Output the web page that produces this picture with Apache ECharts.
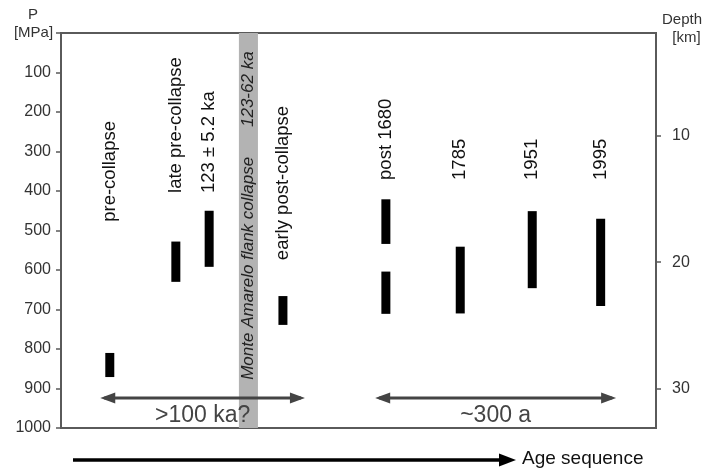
<!DOCTYPE html>
<html><head><meta charset="utf-8">
<script src="https://cdn.jsdelivr.net/npm/echarts@6/dist/echarts.min.js"></script>
<style>html,body{margin:0;padding:0;background:#fff}#c{width:712px;height:470px}</style>
</head><body><div id="c"></div>
<script>
// ---- data ----
const categories = ['pre-collapse', 'late pre-collapse', '123 ± 5.2 ka', 'early post-collapse', 'post 1680', '1785', '1951', '1995'];
const agePosition = [8.2, 19.3, 24.9, 37.3, 54.6, 67.1, 79.2, 90.7];   // position along the age sequence (0-100)
const rangeCategory = [0, 1, 2, 3, 4, 4, 5, 6, 7];
const rangeLow  = [810, 528, 450, 666, 421, 604, 541, 451, 470];        // P [MPa]
const rangeHigh = [871, 630, 592, 739, 534, 711, 710, 646, 691];        // P [MPa]
const collapseBand = [29.9, 33.1];
const collapseLabels = ['Monte Amarelo flank collapse', '123-62 ka'];
const depthTicks = [10, 20, 30];
const arrowStart = [6.6, 52.8];
const arrowEnd = [41.0, 93.3];
const arrowPressure = [924, 924];
const arrowText = ['>100 ka?', '~300 a'];

// ---- layout ----
const labelBottom = [478, 405, 405, 575, 372, 372, 372, 372];
const collapseLabelBottom = [878, 238];
const FONT = '"Liberation Sans", Arial, sans-serif';

const chart = echarts.init(document.getElementById('c'), null, {renderer: 'canvas'});

const rangeData = rangeCategory.map((c, i) => [agePosition[c], rangeLow[i], rangeHigh[i]]);
const labelData = categories.map((c, i) => [agePosition[i], labelBottom[i]]);
const bandCenter = (collapseBand[0] + collapseBand[1]) / 2;
const bandLabelData = collapseLabels.map((t, i) => [bandCenter, collapseLabelBottom[i]]);
const arrowData = arrowText.map((t, i) => [arrowStart[i], arrowEnd[i], arrowPressure[i]]);

chart.setOption({
  animation: false,
  backgroundColor: '#fff',
  grid: {left: 61, right: 56, top: 33, bottom: 42, show: true, borderColor: '#5a5a5a', borderWidth: 2, backgroundColor: 'transparent'},
  xAxis: {type: 'value', min: 0, max: 100, axisLabel: {show: false}, axisTick: {show: false}, splitLine: {show: false},
    axisLine: {show: true, lineStyle: {color: '#5a5a5a', width: 2}}},
  yAxis: [
    {type: 'value', inverse: true, min: 0, max: 1000, interval: 100, position: 'left',
      splitLine: {show: false},
      axisLine: {show: true, lineStyle: {color: '#5a5a5a', width: 2}},
      axisTick: {show: true, length: 5, inside: false, lineStyle: {color: '#5a5a5a', width: 1.5}},
      axisLabel: {color: '#333', fontSize: 16, fontFamily: FONT, margin: 10, formatter: v => v === 0 ? '' : String(v)}},
    {type: 'value', inverse: true, min: 1.94, max: 33.07, position: 'right',
      splitLine: {show: false},
      axisLine: {show: true, lineStyle: {color: '#5a5a5a', width: 2}},
      axisTick: {show: true, length: 5, customValues: depthTicks, lineStyle: {color: '#5a5a5a', width: 1.5}},
      axisLabel: {color: '#333', fontSize: 16, fontFamily: FONT, margin: 16, customValues: depthTicks}}
  ],
  graphic: [
    {type: 'text', x: 33, y: 15, style: {text: 'P', fontSize: 15, fontFamily: FONT, fill: '#333', align: 'center', verticalAlign: 'middle'}},
    {type: 'text', x: 33.5, y: 33, style: {text: '[MPa]', fontSize: 15, fontFamily: FONT, fill: '#333', align: 'center', verticalAlign: 'middle'}},
    {type: 'text', x: 682, y: 20, style: {text: 'Depth', fontSize: 15, fontFamily: FONT, fill: '#333', align: 'center', verticalAlign: 'middle'}},
    {type: 'text', x: 686.5, y: 38, style: {text: '[km]', fontSize: 15, fontFamily: FONT, fill: '#333', align: 'center', verticalAlign: 'middle'}},
    {type: 'line', shape: {x1: 73, y1: 460, x2: 502, y2: 460}, style: {stroke: '#000', lineWidth: 3.5}},
    {type: 'polygon', shape: {points: [[499, 453.5], [516, 460], [499, 466.5]]}, style: {fill: '#000'}},
    {type: 'text', x: 522, y: 459, style: {text: 'Age sequence', fontSize: 19, fontFamily: FONT, fill: '#111', align: 'left', verticalAlign: 'middle'}}
  ],
  series: [
    {type: 'custom', name: 'collapse', coordinateSystem: 'cartesian2d', z: 1, silent: true,
      data: [collapseBand],
      renderItem: (params, api) => {
        const a = api.coord([api.value(0), 0]);
        const b = api.coord([api.value(1), 1000]);
        return {type: 'rect', shape: {x: a[0], y: a[1], width: b[0] - a[0], height: b[1] - a[1]}, style: {fill: '#b3b3b3'}};
      }},
    {type: 'custom', name: 'collapseLabels', coordinateSystem: 'cartesian2d', z: 3, silent: true,
      data: bandLabelData,
      renderItem: (params, api) => {
        const p = api.coord([api.value(0), api.value(1)]);
        return {type: 'text', x: p[0], y: p[1], rotation: Math.PI / 2,
          style: {text: collapseLabels[params.dataIndex], fontSize: 17, fontStyle: 'italic', fontFamily: FONT, fill: '#222', align: 'left', verticalAlign: 'middle'}};
      }},
    {type: 'custom', name: 'ranges', coordinateSystem: 'cartesian2d', z: 4, silent: true,
      data: rangeData,
      renderItem: (params, api) => {
        const a = api.coord([api.value(0), api.value(1)]);
        const b = api.coord([api.value(0), api.value(2)]);
        const w = 9;
        return {type: 'rect', shape: {x: a[0] - w / 2, y: a[1], width: w, height: b[1] - a[1]}, style: {fill: '#000'}};
      }},
    {type: 'custom', name: 'labels', coordinateSystem: 'cartesian2d', z: 3, silent: true,
      data: labelData,
      renderItem: (params, api) => {
        const p = api.coord([api.value(0), api.value(1)]);
        return {type: 'text', x: p[0], y: p[1], rotation: Math.PI / 2,
          style: {text: categories[params.dataIndex], fontSize: 18.5, fontFamily: FONT, fill: '#111', align: 'left', verticalAlign: 'middle'}};
      }},
    {type: 'custom', name: 'arrows', coordinateSystem: 'cartesian2d', z: 5, silent: true,
      data: arrowData,
      renderItem: (params, api) => {
        const a = api.coord([api.value(0), api.value(2)]);
        const b = api.coord([api.value(1), api.value(2)]);
        const y = a[1], hl = 15, hw = 5.5, col = '#444';
        return {type: 'group', children: [
          {type: 'line', shape: {x1: a[0] + 4, y1: y, x2: b[0] - 4, y2: y}, style: {stroke: col, lineWidth: 3}},
          {type: 'polygon', shape: {points: [[a[0], y], [a[0] + hl, y - hw], [a[0] + hl, y + hw]]}, style: {fill: col}},
          {type: 'polygon', shape: {points: [[b[0], y], [b[0] - hl, y - hw], [b[0] - hl, y + hw]]}, style: {fill: col}},
          {type: 'text', x: (a[0] + b[0]) / 2, y: y + 18,
            style: {text: arrowText[params.dataIndex], fontSize: 23, fontFamily: FONT, fill: '#444', align: 'center', verticalAlign: 'middle'}}
        ]};
      }}
  ]
});
</script></body></html>
